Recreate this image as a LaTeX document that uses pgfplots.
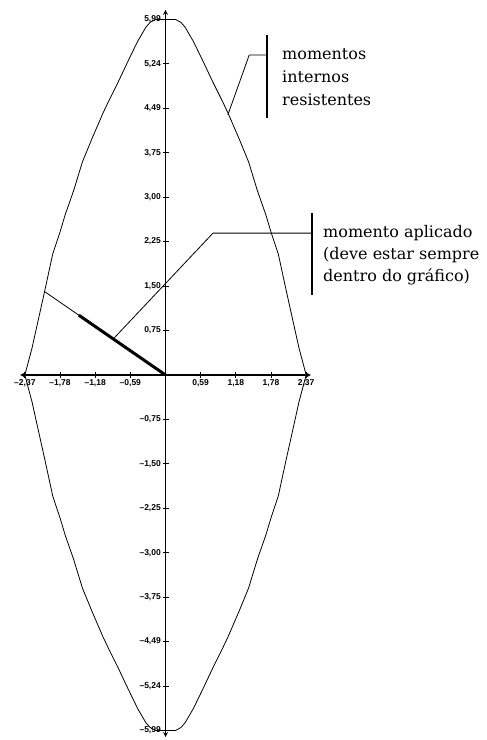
\documentclass[border=0pt]{standalone}
\usepackage{fontspec}
\usepackage{pgfplots}
\pgfplotsset{compat=1.18}
\newfontfamily\notefont{DejaVu Serif}
\newfontfamily\tickfont{Liberation Sans}

\begin{document}
\begin{tikzpicture}
\useasboundingbox (0,0) rectangle (487bp,740bp);
\begin{axis}[
  x=59.35bp, y=59.35bp,
  anchor=south west, at={(20.1bp,3.0bp)},
  xmin=-2.45, xmax=2.45, ymin=-6.10, ymax=6.15,
  axis lines=middle,
  axis line style={line width=1.2bp, stealth-stealth},
  clip=false,
  xtick={-2.37,-1.7775,-1.185,-0.5925,0.5925,1.185,1.7775,2.37},
  xticklabels={{\textendash2,37},{\textendash1,78},{\textendash1,18},{\textendash0,59},{0,59},{1,18},{1,78},{2,37}},
  ytick={-5.99,-5.24125,-4.4925,-3.74375,-2.995,-2.24625,-1.4975,-0.74875,0.74875,1.4975,2.24625,2.995,3.74375,4.4925,5.24125,5.99},
  yticklabels={{\textendash5,99},{\textendash5,24},{\textendash4,49},{\textendash3,75},{\textendash3,00},{\textendash2,25},{\textendash1,50},{\textendash0,75},{0,75},{1,50},{2,25},{3,00},{3,75},{4,49},{5,24},{5,99}},
  tick style={black, line width=0.8bp},
  major tick length=6bp,
  tick align=center,
  ticklabel style={font=\tickfont\bfseries\fontsize{8.5bp}{8.5bp}\selectfont, inner sep=1.5bp},
]
% interaction diagram of resisting moments
\addplot[black, line width=0.8bp] coordinates {
  (0,5.99) (0.17,5.99) (0.26,5.94) (0.33,5.86) (0.47,5.62) (0.64,5.27)
  (0.80,4.93) (0.95,4.63) (1.05,4.42) (1.24,3.98) (1.40,3.59) (1.55,3.10)
  (1.69,2.70) (1.78,2.40) (1.90,2.04) (2.03,1.44) (2.15,0.90) (2.25,0.45)
  (2.37,0)
  (2.25,-0.45) (2.15,-0.90) (2.03,-1.44) (1.90,-2.04) (1.78,-2.40) (1.69,-2.70)
  (1.55,-3.10) (1.40,-3.59) (1.24,-3.98) (1.05,-4.42) (0.95,-4.63) (0.80,-4.93)
  (0.64,-5.27) (0.47,-5.62) (0.33,-5.86) (0.26,-5.94) (0.17,-5.99) (0,-5.99)
  (-0.17,-5.99) (-0.26,-5.94) (-0.33,-5.86) (-0.47,-5.62) (-0.64,-5.27)
  (-0.80,-4.93) (-0.95,-4.63) (-1.05,-4.42) (-1.24,-3.98) (-1.40,-3.59) (-1.55,-3.10)
  (-1.69,-2.70) (-1.78,-2.40) (-1.90,-2.04) (-2.03,-1.44) (-2.15,-0.90) (-2.25,-0.45)
  (-2.37,0)
  (-2.25,0.45) (-2.15,0.90) (-2.03,1.44) (-1.90,2.04) (-1.78,2.40) (-1.69,2.70)
  (-1.55,3.10) (-1.40,3.59) (-1.24,3.98) (-1.05,4.42) (-0.95,4.63) (-0.80,4.93)
  (-0.64,5.27) (-0.47,5.62) (-0.33,5.86) (-0.26,5.94) (-0.17,5.99) (0,5.99)
};
% applied moment: extension to the envelope and the vector itself
\addplot[black, line width=0.8bp] coordinates {(0,0) (-2.03,1.40)};
\addplot[black, line width=3bp] coordinates {(0,0) (-1.46,1.007)};

% callouts
\draw[line width=0.8bp] (axis cs:1.05,4.38) -- (axis cs:1.41,5.39) -- (axis cs:1.71,5.39);
\draw[line width=1.6bp] (axis cs:1.71,5.73) -- (axis cs:1.71,4.33);
\node[anchor=west, align=left, inner sep=0pt,
  font=\notefont\fontsize{16bp}{23bp}\selectfont] at (axis cs:1.963,5.02)
  {momentos\\internos\\resistentes};

\draw[line width=0.8bp] (axis cs:-0.88,0.607) -- (axis cs:0.80,2.39) -- (axis cs:2.47,2.39);
\draw[line width=1.6bp] (axis cs:2.47,2.73) -- (axis cs:2.47,1.35);
\node[anchor=west, align=left, inner sep=0pt,
  font=\notefont\fontsize{16bp}{22bp}\selectfont] at (axis cs:2.654,2.02)
  {momento aplicado\\(deve estar sempre\\dentro do gráfico)};
\end{axis}
\end{tikzpicture}
\end{document}
